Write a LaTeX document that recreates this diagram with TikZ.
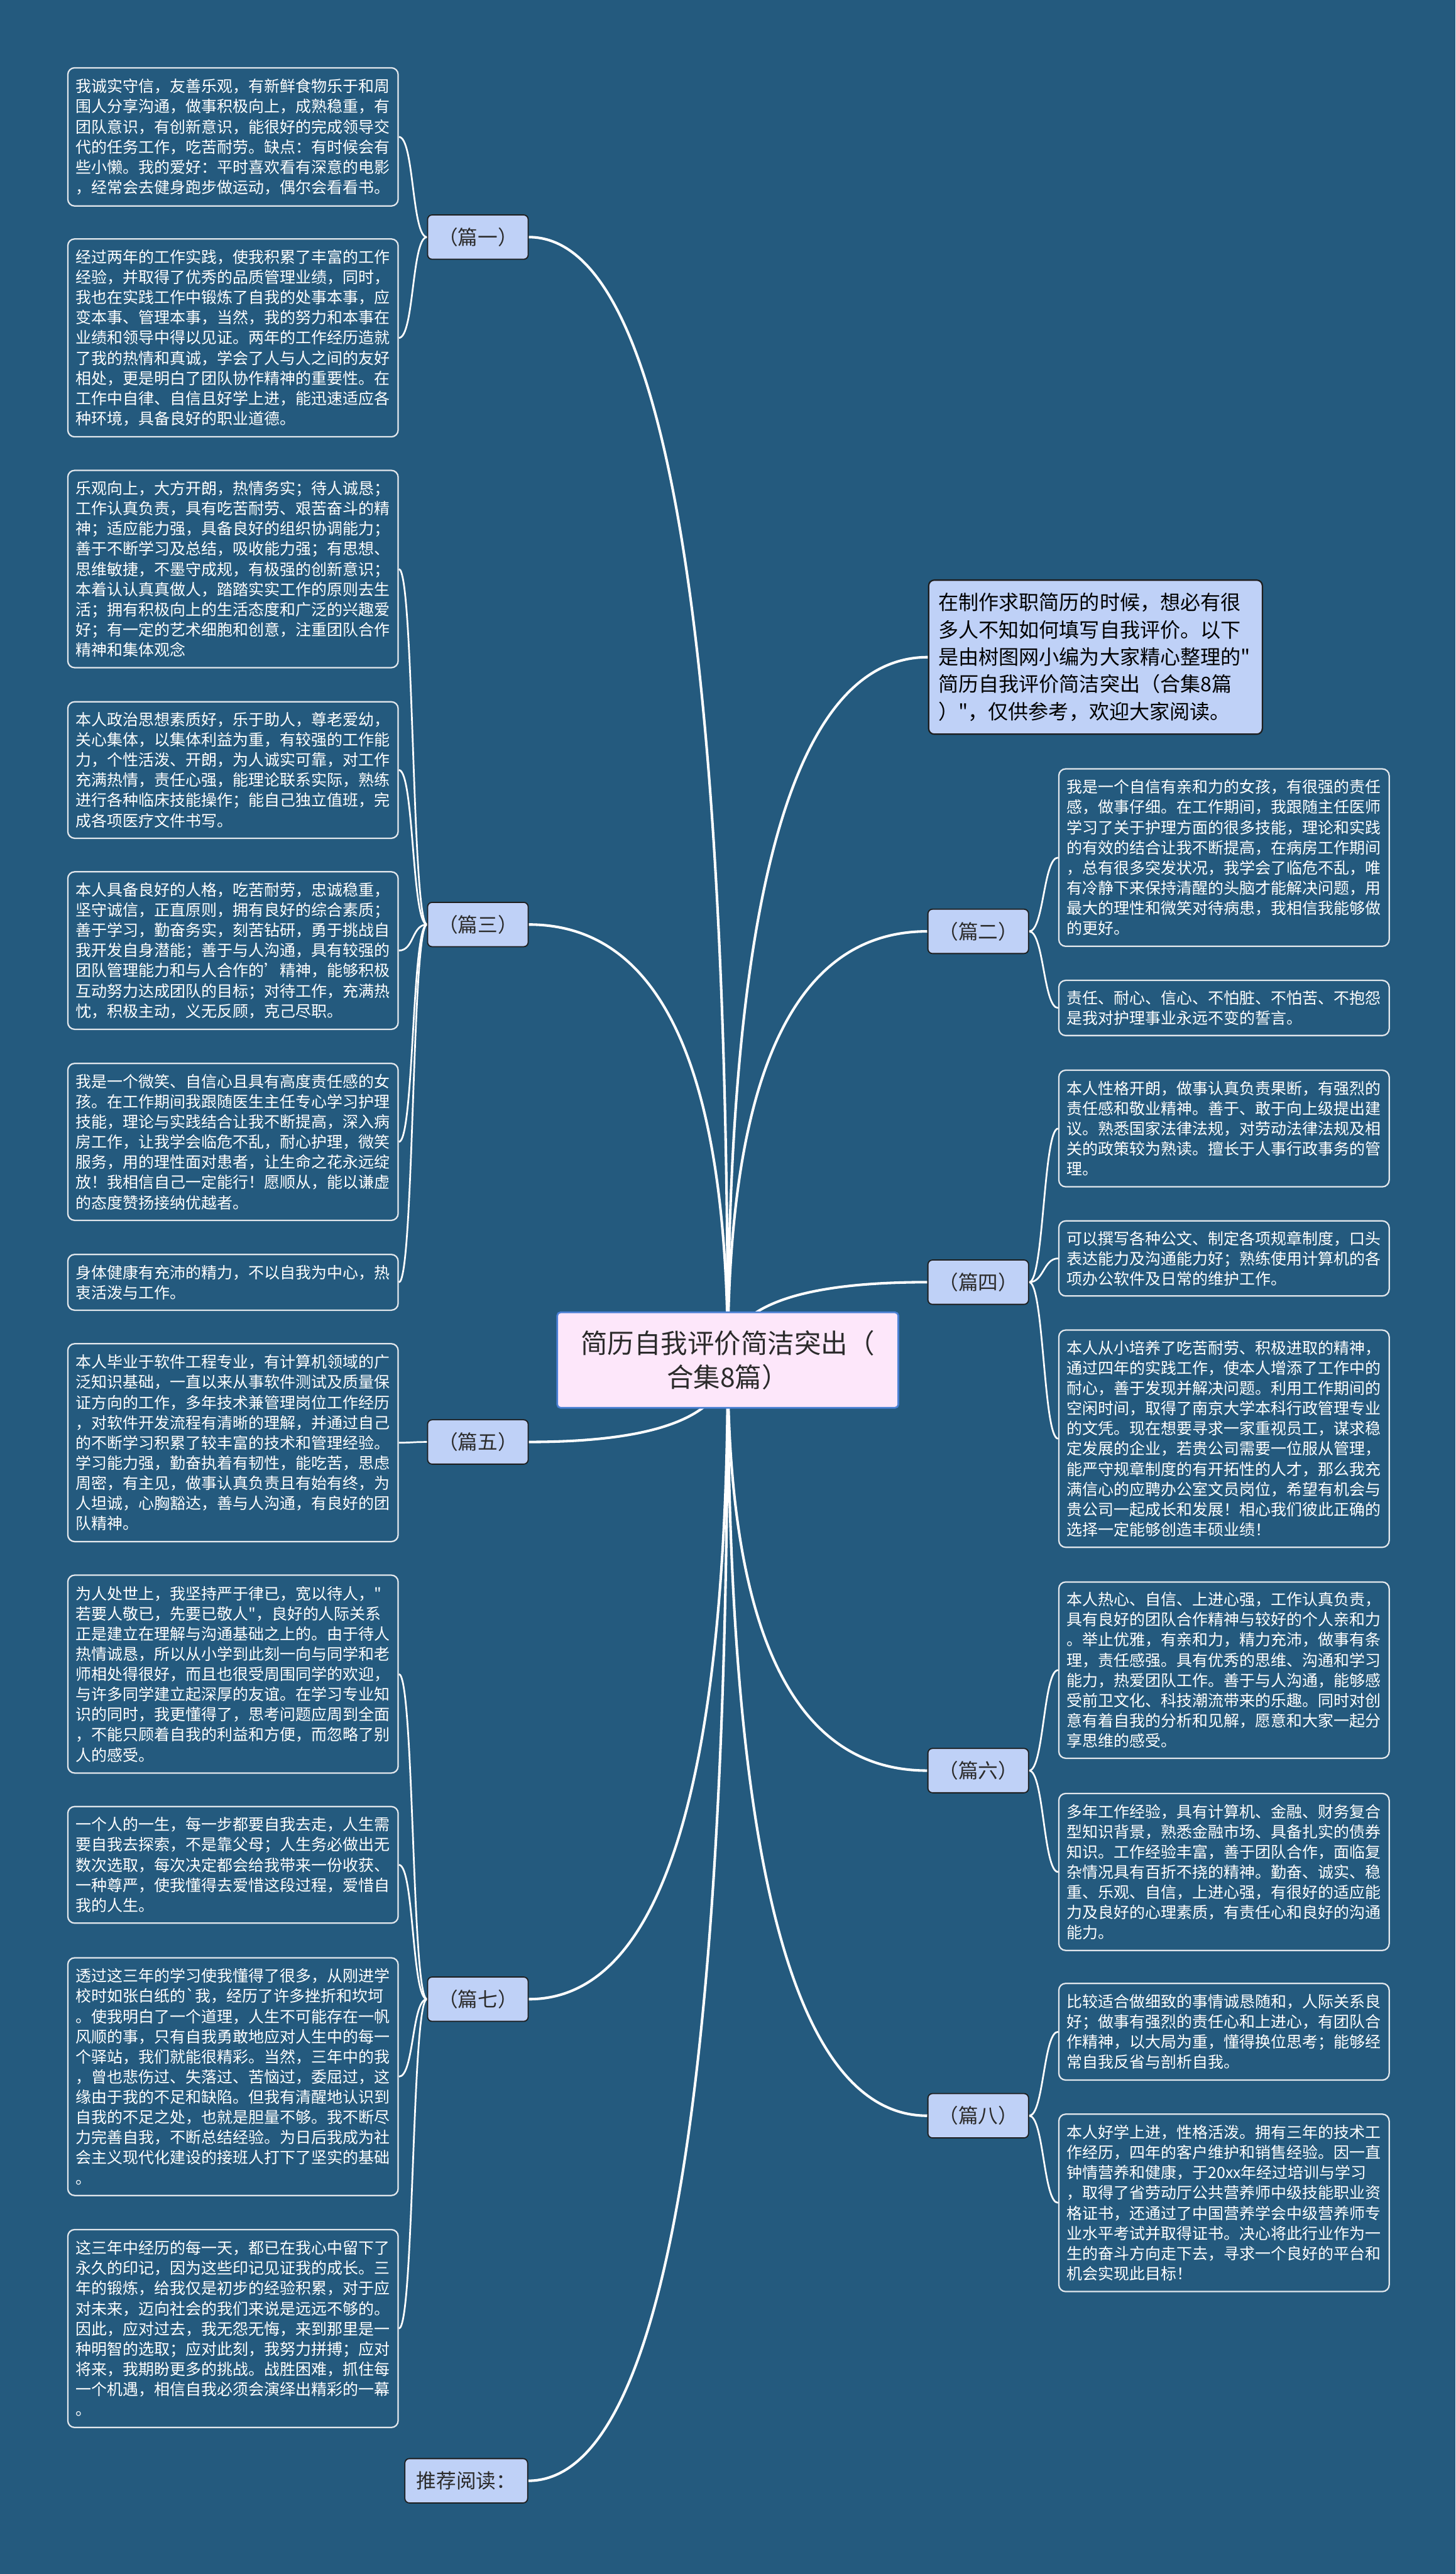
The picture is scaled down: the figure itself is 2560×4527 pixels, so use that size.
\documentclass[tikz,border=0pt]{standalone}
\usepackage{fontspec}
\newfontfamily\cjk{Noto Sans CJK SC}
\usetikzlibrary{calc}
\pgfdeclarelayer{back}
\pgfdeclarelayer{links}
\pgfsetlayers{back,links,main}
\definecolor{bg}{HTML}{245A7E}
\definecolor{boxline}{HTML}{E2E7EC}
\definecolor{lblfill}{HTML}{BFD1F7}
\definecolor{lblline}{HTML}{1E1E1E}
\definecolor{ctrfill}{HTML}{FDE7FA}
\definecolor{ctrline}{HTML}{4A80D4}
\definecolor{darktext}{HTML}{2B2B2B}
\tikzset{
  cbox/.style={draw=boxline, line width=2.5pt, rounded corners=12pt, fill=bg, text=white,
    text width=553pt, inner xsep=14pt, inner ysep=6pt, align=left, anchor=north west,
    font=\cjk\fontsize{27.6}{35.5}\selectfont},
  lbl/.style={draw=lblline, line width=2pt, fill=lblfill, rounded corners=8pt, text=darktext,
    minimum height=78pt, minimum width=177pt, inner sep=0pt, font=\cjk\fontsize{35}{42}\selectfont},
  intro/.style={draw=lblline, line width=2.5pt, fill=lblfill, rounded corners=10pt, text=black,
    text width=553pt, inner xsep=17pt, inner ysep=6pt, align=left, anchor=north west,
    minimum height=271pt, font=\cjk\fontsize{35.5}{48}\selectfont},
  ctr/.style={draw=ctrline, line width=3pt, fill=ctrfill, rounded corners=6pt, text=darktext,
    minimum width=600pt, minimum height=168pt, align=center, font=\cjk\fontsize{47}{60}\selectfont},
  cl/.style={draw=white, line width=4.5pt},
  kl/.style={draw=white, line width=3pt}
}
\newcommand\mmbox[5]{\node[cbox, minimum height=#4pt] (#1) at (#2,-#3) {#5};}
\newcommand\clink[2]{\draw[cl] (#1.center) .. controls ($(#1.center)!0.6667!(#1.center|-#2)$) and ($(#2)!0.6667!(#1.center|-#2)$) .. (#2);}
\begin{document}
\begin{tikzpicture}[x=1pt,y=1pt]
\begin{pgfonlayer}{back}
\fill[bg] (0,0) rectangle (2560,-4527);
\end{pgfonlayer}
\useasboundingbox (0,0) rectangle (2560,-4527);

% center
\node[ctr] (ctr) at (1280,-2392) {简历自我评价简洁突出（\\合集8篇）};

% left labels
\node[lbl] (p1) at (840.5,-417) {（篇一）};
\node[lbl] (p3) at (840.5,-1626) {（篇三）};
\node[lbl] (p5) at (840.5,-2536) {（篇五）};
\node[lbl] (p7) at (840.5,-3516) {（篇七）};
\node[lbl, minimum width=216pt] (rec) at (820,-4363) {推荐阅读：};

% right labels
\node[lbl] (p2) at (1720.5,-1638) {（篇二）};
\node[lbl] (p4) at (1720.5,-2255) {（篇四）};
\node[lbl] (p6) at (1720.5,-3114) {（篇六）};
\node[lbl] (p8) at (1720.5,-3721) {（篇八）};

% intro
\node[intro] (intro) at (1632,-1019) {在制作求职简历的时候，想必有很\\多人不知如何填写自我评价。以下\\是由树图网小编为大家精心整理的"\\简历自我评价简洁突出（合集8篇\\）"，仅供参考，欢迎大家阅读。};

% left boxes
\mmbox{l1}{118}{118}{243}{我诚实守信，友善乐观，有新鲜食物乐于和周\\围人分享沟通，做事积极向上，成熟稳重，有\\团队意识，有创新意识，能很好的完成领导交\\代的任务工作，吃苦耐劳。缺点：有时候会有\\些小懒。我的爱好：平时喜欢看有深意的电影\\，经常会去健身跑步做运动，偶尔会看看书。}
\mmbox{l2}{118}{419}{348}{经过两年的工作实践，使我积累了丰富的工作\\经验，并取得了优秀的品质管理业绩，同时，\\我也在实践工作中锻炼了自我的处事本事，应\\变本事、管理本事，当然，我的努力和本事在\\业绩和领导中得以见证。两年的工作经历造就\\了我的热情和真诚，学会了人与人之间的友好\\相处，更是明白了团队协作精神的重要性。在\\工作中自律、自信且好学上进，能迅速适应各\\种环境，具备良好的职业道德。}
\mmbox{l3}{118}{826}{347}{乐观向上，大方开朗，热情务实；待人诚恳；\\工作认真负责，具有吃苦耐劳、艰苦奋斗的精\\神；适应能力强，具备良好的组织协调能力；\\善于不断学习及总结，吸收能力强；有思想、\\思维敏捷，不墨守成规，有极强的创新意识；\\本着认认真真做人，踏踏实实工作的原则去生\\活；拥有积极向上的生活态度和广泛的兴趣爱\\好；有一定的艺术细胞和创意，注重团队合作\\精神和集体观念}
\mmbox{l4}{118}{1233}{240}{本人政治思想素质好，乐于助人，尊老爱幼，\\关心集体，以集体利益为重，有较强的工作能\\力，个性活泼、开朗，为人诚实可靠，对工作\\充满热情，责任心强，能理论联系实际，熟练\\进行各种临床技能操作；能自己独立值班，完\\成各项医疗文件书写。}
\mmbox{l5}{118}{1532}{277}{本人具备良好的人格，吃苦耐劳，忠诚稳重，\\坚守诚信，正直原则，拥有良好的综合素质；\\善于学习，勤奋务实，刻苦钻研，勇于挑战自\\我开发自身潜能；善于与人沟通，具有较强的\\团队管理能力和与人合作的’精神，能够积极\\互动努力达成团队的目标；对待工作，充满热\\忱，积极主动，义无反顾，克己尽职。}
\mmbox{l6}{118}{1869}{276}{我是一个微笑、自信心且具有高度责任感的女\\孩。在工作期间我跟随医生主任专心学习护理\\技能，理论与实践结合让我不断提高，深入病\\房工作，让我学会临危不乱，耐心护理，微笑\\服务，用的理性面对患者，让生命之花永远绽\\放！我相信自己一定能行！愿顺从，能以谦虚\\的态度赞扬接纳优越者。}
\mmbox{l7}{118}{2205}{98}{身体健康有充沛的精力，不以自我为中心，热\\衷活泼与工作。}
\mmbox{l8}{118}{2362}{348}{本人毕业于软件工程专业，有计算机领域的广\\泛知识基础，一直以来从事软件测试及质量保\\证方向的工作，多年技术兼管理岗位工作经历\\，对软件开发流程有清晰的理解，并通过自己\\的不断学习积累了较丰富的技术和管理经验。\\学习能力强，勤奋执着有韧性，能吃苦，思虑\\周密，有主见，做事认真负责且有始有终，为\\人坦诚，心胸豁达，善与人沟通，有良好的团\\队精神。}
\mmbox{l9}{118}{2769}{348}{为人处世上，我坚持严于律已，宽以待人，"\\若要人敬已，先要已敬人"，良好的人际关系\\正是建立在理解与沟通基础之上的。由于待人\\热情诚恳，所以从小学到此刻一向与同学和老\\师相处得很好，而且也很受周围同学的欢迎，\\与许多同学建立起深厚的友谊。在学习专业知\\识的同时，我更懂得了，思考问题应周到全面\\，不能只顾着自我的利益和方便，而忽略了别\\人的感受。}
\mmbox{l10}{118}{3176}{205}{一个人的一生，每一步都要自我去走，人生需\\要自我去探索，不是靠父母；人生务必做出无\\数次选取，每次决定都会给我带来一份收获、\\一种尊严，使我懂得去爱惜这段过程，爱惜自\\我的人生。}
\mmbox{l11}{118}{3442}{418}{透过这三年的学习使我懂得了很多，从刚进学\\校时如张白纸的`我，经历了许多挫折和坎坷\\。使我明白了一个道理，人生不可能存在一帆\\风顺的事，只有自我勇敢地应对人生中的每一\\个驿站，我们就能很精彩。当然，三年中的我\\，曾也悲伤过、失落过、苦恼过，委屈过，这\\缘由于我的不足和缺陷。但我有清醒地认识到\\自我的不足之处，也就是胆量不够。我不断尽\\力完善自我，不断总结经验。为日后我成为社\\会主义现代化建设的接班人打下了坚实的基础\\。}
\mmbox{l12}{118}{3920}{348}{这三年中经历的每一天，都已在我心中留下了\\永久的印记，因为这些印记见证我的成长。三\\年的锻炼，给我仅是初步的经验积累，对于应\\对未来，迈向社会的我们来说是远远不够的。\\因此，应对过去，我无怨无悔，来到那里是一\\种明智的选取；应对此刻，我努力拼搏；应对\\将来，我期盼更多的挑战。战胜困难，抓住每\\一个机遇，相信自我必须会演绎出精彩的一幕\\。}

% right boxes
\mmbox{r1}{1861}{1351}{312}{我是一个自信有亲和力的女孩，有很强的责任\\感，做事仔细。在工作期间，我跟随主任医师\\学习了关于护理方面的很多技能，理论和实践\\的有效的结合让我不断提高，在病房工作期间\\，总有很多突发状况，我学会了临危不乱，唯\\有冷静下来保持清醒的头脑才能解决问题，用\\最大的理性和微笑对待病患，我相信我能够做\\的更好。}
\mmbox{r2}{1861}{1723}{97}{责任、耐心、信心、不怕脏、不怕苦、不抱怨\\是我对护理事业永远不变的誓言。}
\mmbox{r3}{1861}{1881}{205}{本人性格开朗，做事认真负责果断，有强烈的\\责任感和敬业精神。善于、敢于向上级提出建\\议。熟悉国家法律法规，对劳动法律法规及相\\关的政策较为熟读。擅长于人事行政事务的管\\理。}
\mmbox{r4}{1861}{2146}{132}{可以撰写各种公文、制定各项规章制度，口头\\表达能力及沟通能力好；熟练使用计算机的各\\项办公软件及日常的维护工作。}
\mmbox{r5}{1861}{2338}{382}{本人从小培养了吃苦耐劳、积极进取的精神，\\通过四年的实践工作，使本人增添了工作中的\\耐心，善于发现并解决问题。利用工作期间的\\空闲时间，取得了南京大学本科行政管理专业\\的文凭。现在想要寻求一家重视员工，谋求稳\\定发展的企业，若贵公司需要一位服从管理，\\能严守规章制度的有开拓性的人才，那么我充\\满信心的应聘办公室文员岗位，希望有机会与\\贵公司一起成长和发展！相心我们彼此正确的\\选择一定能够创造丰硕业绩！}
\mmbox{r6}{1861}{2781}{310}{本人热心、自信、上进心强，工作认真负责，\\具有良好的团队合作精神与较好的个人亲和力\\。举止优雅，有亲和力，精力充沛，做事有条\\理，责任感强。具有优秀的思维、沟通和学习\\能力，热爱团队工作。善于与人沟通，能够感\\受前卫文化、科技潮流带来的乐趣。同时对创\\意有着自我的分析和见解，愿意和大家一起分\\享思维的感受。}
\mmbox{r7}{1861}{3153}{276}{多年工作经验，具有计算机、金融、财务复合\\型知识背景，熟悉金融市场、具备扎实的债券\\知识。工作经验丰富，善于团队合作，面临复\\杂情况具有百折不挠的精神。勤奋、诚实、稳\\重、乐观、自信，上进心强，有很好的适应能\\力及良好的心理素质，有责任心和良好的沟通\\能力。}
\mmbox{r8}{1861}{3487}{170}{比较适合做细致的事情诚恳随和，人际关系良\\好；做事有强烈的责任心和上进心，有团队合\\作精神，以大局为重，懂得换位思考；能够经\\常自我反省与剖析自我。}
\mmbox{r9}{1861}{3717}{312}{本人好学上进，性格活泼。拥有三年的技术工\\作经历，四年的客户维护和销售经验。因一直\\钟情营养和健康，于20xx年经过培训与学习\\，取得了省劳动厅公共营养师中级技能职业资\\格证书，还通过了中国营养学会中级营养师专\\业水平考试并取得证书。决心将此行业作为一\\生的奋斗方向走下去，寻求一个良好的平台和\\机会实现此目标！}

\begin{pgfonlayer}{links}
% center links
\clink{ctr}{p1.east}
\clink{ctr}{p3.east}
\clink{ctr}{p5.east}
\clink{ctr}{p7.east}
\clink{ctr}{rec.east}
\clink{ctr}{intro.west}
\clink{ctr}{p2.west}
\clink{ctr}{p4.west}
\clink{ctr}{p6.west}
\clink{ctr}{p8.west}
% child links left
\foreach \p/\b in {p1/l1,p1/l2,p3/l3,p3/l4,p3/l5,p3/l6,p3/l7,p5/l8,p7/l9,p7/l10,p7/l11,p7/l12}
  \draw[kl] (\p.west) .. controls ($(\p.west)+(-27,0)$) and ($(\b.east)+(27,0)$) .. (\b.east);
% child links right
\foreach \p/\b in {p2/r1,p2/r2,p4/r3,p4/r4,p4/r5,p6/r6,p6/r7,p8/r8,p8/r9}
  \draw[kl] (\p.east) .. controls ($(\p.east)+(26,0)$) and ($(\b.west)+(-26,0)$) .. (\b.west);
\end{pgfonlayer}
\end{tikzpicture}
\end{document}
